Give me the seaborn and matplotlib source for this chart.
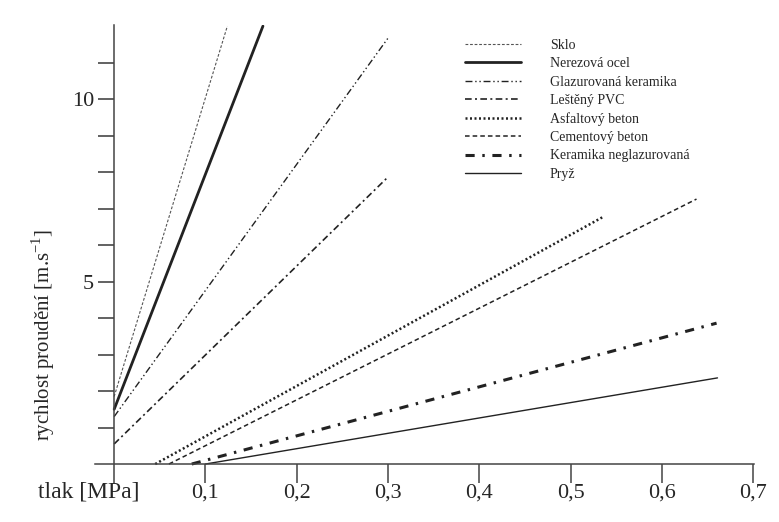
import numpy as np
import pandas as pd
import seaborn as sns
import matplotlib
matplotlib.use('Agg')
import matplotlib.pyplot as plt

# materialy v poradi legendy
names = ['Sklo', 'Nerezová ocel', 'Glazurovaná keramika', 'Leštěný PVC',
         'Asfaltový beton', 'Cementový beton', 'Keramika neglazurovaná', 'Pryž']

# tlak [MPa] - pocatek a konec kazde primky
tlak_0 = [0.0, 0.0, 0.0, 0.0, 0.045, 0.060, 0.085, 0.100]
tlak_1 = [0.124, 0.163, 0.300, 0.299, 0.537, 0.638, 0.660, 0.661]
# rychlost proudeni [m/s]
rych_0 = [1.85, 1.50, 1.30, 0.55, 0.0, 0.0, 0.0, 0.0]
rych_1 = [12.0, 12.0, 11.67, 7.84, 6.79, 7.26, 3.86, 2.36]

xticks = [0.1, 0.2, 0.3, 0.4, 0.5, 0.6, 0.7]
xlabels = ['0,1', '0,2', '0,3', '0,4', '0,5', '0,6', '0,7']
yticks = list(range(1, 12))

rows = []
for i, n in enumerate(names):
    rows.append({'material': n, 'tlak': tlak_0[i], 'v': rych_0[i]})
    rows.append({'material': n, 'tlak': tlak_1[i], 'v': rych_1[i]})
df = pd.DataFrame(rows)

dashes = {
    'Sklo': (2.5, 1.6),
    'Nerezová ocel': '',
    'Glazurovaná keramika': (5, 2, 1, 2, 1, 2),
    'Leštěný PVC': (4, 2, 1.2, 2),
    'Asfaltový beton': (0.8, 1.0),
    'Cementový beton': (3, 2),
    'Keramika neglazurovaná': (3, 2.5, 0.8, 2.5),
    'Pryž': '',
}
widths = {
    'Sklo': 0.8, 'Nerezová ocel': 2.0, 'Glazurovaná keramika': 1.0,
    'Leštěný PVC': 1.2, 'Asfaltový beton': 1.8, 'Cementový beton': 1.1,
    'Keramika neglazurovaná': 2.2, 'Pryž': 1.0,
}
colors = {n: '#222222' for n in names}
colors['Sklo'] = '#555555'

sns.set_style('white')
plt.rcParams['font.family'] = ['Liberation Serif', 'DejaVu Serif']
plt.rcParams['mathtext.fontset'] = 'custom'
plt.rcParams['mathtext.rm'] = 'Liberation Serif'

fig = plt.figure(figsize=(7.79, 5.22), dpi=100)
ax = fig.add_axes([95 / 779, 39 / 522, 659 / 779, 458 / 522])

sns.lineplot(data=df, x='tlak', y='v', hue='material', style='material', size='material',
             hue_order=names, style_order=names, size_order=names,
             palette=colors, dashes=dashes, sizes=widths, ax=ax, legend='full')

ax.set_xlim(-0.021, 0.701)
ax.set_ylim(-0.52, 12.03)
for s in ['top', 'right']:
    ax.spines[s].set_visible(False)
ax.spines['bottom'].set_position(('data', 0))
ax.spines['left'].set_position(('data', 0))
for s in ['bottom', 'left']:
    ax.spines[s].set_color('#444444')
    ax.spines[s].set_linewidth(1.1)

ax.set_xticks(xticks)
ax.set_xticklabels(xlabels)
ax.set_yticks(yticks)
ax.set_yticklabels(['5' if t == 5 else '10' if t == 10 else '' for t in yticks])
ax.tick_params(axis='x', direction='out', length=13.5, width=1.1, color='#444444',
               labelsize=16, pad=0.5, bottom=True)
ax.tick_params(axis='y', direction='out', length=11.5, width=1.3, color='#555555',
               labelsize=16, pad=3, left=True)
ax.set_xlabel('')
ax.set_ylabel('')

h, l = ax.get_legend_handles_labels()
hl = [(hh, ll) for hh, ll in zip(h, l) if ll in names]
leg = ax.legend([x[0] for x in hl], [x[1] for x in hl], frameon=False, fontsize=10,
                loc='upper left', bbox_to_anchor=(465 / 779, 1 - 39 / 522),
                bbox_transform=fig.transFigure, handlelength=4.0, handletextpad=2.1,
                labelspacing=0.38, borderpad=0, borderaxespad=0)

fig.text(38 / 779, 1 - 492 / 522, 'tlak [MPa]', fontsize=17, ha='left', va='center')
fig.text(43 / 779, 1 - 335 / 522, 'rychlost proudění [m.s$^{\\mathregular{-1}}$]',
         fontsize=15, rotation=90, ha='center', va='center')

fig.savefig('out.png', dpi=100)
